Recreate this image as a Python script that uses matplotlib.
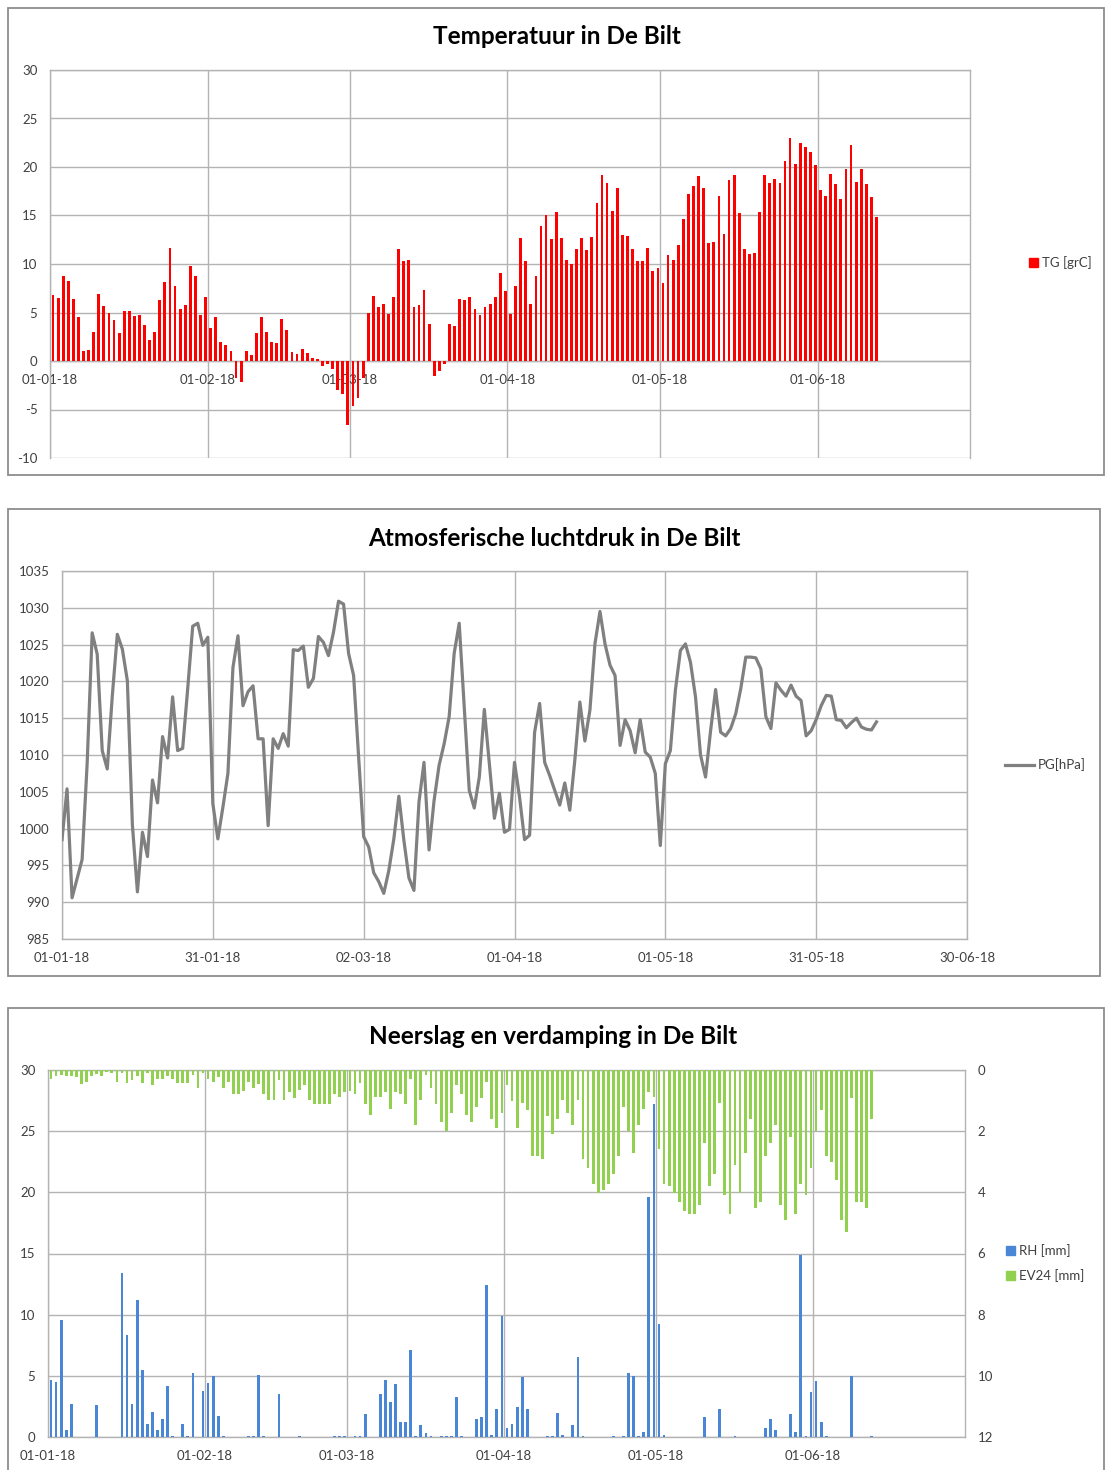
import numpy as np
import pandas as pd
import matplotlib
matplotlib.use('Agg')
import matplotlib.pyplot as plt
import matplotlib.dates as mdates
from matplotlib.patches import Rectangle, Patch
from matplotlib.lines import Line2D

plt.rcParams['font.family'] = ['Lato', 'DejaVu Sans']
plt.rcParams['axes.unicode_minus'] = False

START = '2018-01-01'

# Daily mean temperature TG [grC], 1 Jan - 12 Jun 2018
TG = [6.8, 6.5, 8.8, 8.2, 6.4, 4.5, 1.05, 1.1, 3.0, 6.9, 5.7, 5.0, 4.25, 2.9, 5.2, 5.2,
      4.6, 4.7, 3.7, 2.2, 3.0, 6.3, 8.1, 11.7, 7.7, 5.4, 5.8, 9.8, 8.8, 4.7, 6.6,
      3.4, 4.5, 2.0, 1.7, 1.0, -1.8, -2.2, 1.0, 0.6, 2.9, 4.5, 3.0, 2.0, 1.9, 4.3,
      3.2, 0.95, 0.7, 1.25, 0.8, 0.3, 0.25, -0.5, -0.35, -0.8, -3.0, -3.4, -6.6,
      -4.6, -3.8, -1.8, 5.0, 6.7, 5.6, 5.9, 4.8, 6.6, 11.5, 10.3, 10.4, 5.6, 5.8,
      7.35, 3.8, -1.5, -1.0, -0.3, 3.8, 3.6, 6.4, 6.25, 6.6, 5.4, 4.7, 5.6, 5.9,
      6.6, 9.1, 7.2,
      4.8, 7.7, 12.7, 10.3, 5.9, 8.8, 13.9, 15.1, 12.6, 15.4, 12.7, 10.4, 10.0,
      11.5, 12.7, 11.4, 12.8, 16.3, 19.2, 18.3, 15.5, 17.8, 13.0, 12.9, 11.5,
      10.3, 10.3, 11.7, 9.3, 9.6,
      8.0, 10.9, 10.45, 12.0, 14.6, 17.2, 18.0, 19.1, 17.8, 12.2, 12.3, 17.0,
      13.1, 18.7, 19.2, 15.3, 11.5, 11.0, 11.1, 15.4, 19.2, 18.3, 18.8, 18.3,
      20.6, 23.0, 20.3, 22.5, 22.1, 21.5, 20.2,
      17.6, 17.0, 19.3, 18.2, 16.7, 19.8, 22.3, 18.5, 19.8, 18.2, 16.9, 14.8]

# Daily mean air pressure PG [hPa]
PG = [998.5, 1005.4, 990.6, 993.2, 995.8, 1008.8, 1026.6, 1023.7, 1010.6, 1008.1,
      1018.0, 1026.4, 1024.4, 1020.1, 1000.5, 991.4, 999.5, 996.2, 1006.6, 1003.5,
      1012.5, 1009.6, 1017.9, 1010.6, 1010.9, 1019.0, 1027.5, 1027.9, 1024.9, 1026.0,
      1003.4, 998.6, 1002.9, 1007.5, 1021.9, 1026.2, 1016.7, 1018.6, 1019.4, 1012.2,
      1012.2, 1000.4, 1012.2, 1010.9, 1012.9, 1011.2, 1024.3, 1024.2, 1024.8, 1019.2,
      1020.4, 1026.1, 1025.3, 1023.5, 1026.7, 1030.9, 1030.5, 1023.8, 1020.8, 1009.7,
      998.9, 997.5, 994.0, 992.8, 991.2, 994.3, 998.6, 1004.4, 998.4, 993.3,
      991.6, 1003.6, 1009.0, 997.1, 1003.8, 1008.6, 1011.5, 1015.2, 1023.8, 1027.9,
      1016.5, 1005.2, 1002.8, 1007.0, 1016.2, 1008.8, 1001.4, 1004.8, 999.5, 999.9,
      1009.0, 1004.3, 998.5, 999.1, 1013.1, 1017.0, 1009.0, 1007.2, 1005.2, 1003.2,
      1006.2, 1002.5, 1009.3, 1017.2, 1011.9, 1016.1, 1025.1, 1029.5, 1025.1, 1022.2,
      1020.8, 1011.3, 1014.8, 1013.3, 1010.3, 1014.8, 1010.4, 1009.7, 1007.5, 997.7,
      1008.8, 1010.6, 1018.8, 1024.2, 1025.1, 1022.6, 1017.9, 1010.0, 1007.0, 1013.3,
      1018.9, 1013.1, 1012.6, 1013.6, 1015.6, 1019.0, 1023.3, 1023.3, 1023.2, 1021.7,
      1015.2, 1013.6, 1019.8, 1018.8, 1018.0, 1019.5, 1018.0, 1017.4, 1012.6, 1013.3,
      1014.8, 1016.7, 1018.1, 1018.0, 1014.8, 1014.7, 1013.7, 1014.4, 1015.0, 1013.8,
      1013.5, 1013.4, 1014.5]

# Daily precipitation RH [mm]
RH = [4.7, 4.5, 9.6, 0.55, 2.7, 0, 0, 0, 0, 2.6,
      0, 0, 0, 0, 13.4, 8.3, 2.7, 11.2, 5.5, 1.1,
      2.05, 0.55, 1.5, 4.2, 0.1, 0, 1.1, 0.05, 5.2, 0,
      3.8, 4.4, 5.0, 1.7, 0.05, 0, 0, 0, 0, 0.05,
      0.05, 5.1, 0.05, 0, 0, 3.5, 0, 0, 0, 0.05,
      0, 0, 0, 0, 0, 0, 0.05, 0.05, 0.05, 0,
      0.05, 0.05, 1.9, 0, 0, 3.55, 4.7, 2.9, 4.3, 1.2,
      1.2, 7.1, 0.05, 0.95, 0.35, 0.05, 0, 0.05, 0.05, 0.05,
      3.3, 0.05, 0, 0, 1.5, 1.6, 12.4, 0.15, 2.3, 9.9,
      0.7, 1.1, 2.45, 4.9, 2.3, 0, 0, 0, 0.05, 0.05,
      2.0, 0.15, 0, 0.95, 6.5, 0.05, 0, 0, 0, 0,
      0, 0.05, 0, 0.05, 5.2, 5.0, 0.05, 0.4, 19.6, 27.2,
      9.2, 0.15, 0, 0, 0, 0, 0, 0, 0, 1.6,
      0, 0, 2.3, 0, 0, 0.05, 0, 0, 0, 0,
      0, 0.75, 1.45, 0.55, 0, 0, 1.9, 0.4, 14.85, 0.05,
      3.7, 4.6, 1.2, 0.05, 0, 0, 0, 0, 5.0, 0,
      0, 0, 0.05]

# Daily evaporation EV24 [mm]
EV24 = [0.30, 0.19, 0.16, 0.19, 0.19, 0.22, 0.47, 0.38, 0.19, 0.13,
        0.19, 0.08, 0.11, 0.38, 0.11, 0.41, 0.33, 0.19, 0.41, 0.11,
        0.49, 0.30, 0.30, 0.19, 0.30, 0.41, 0.41, 0.41, 0.16, 0.60,
        0.11, 0.30, 0.38, 0.24, 0.58, 0.38, 0.80, 0.80, 0.69, 0.38,
        0.58, 0.46, 0.80, 0.99, 0.99, 0.33, 0.99, 0.71, 0.91, 0.66,
        0.49, 0.99, 1.10, 1.10, 1.10, 1.10, 0.77, 0.88, 0.71, 0.69,
        0.79, 0.41, 1.10, 1.48, 0.88, 0.88, 0.71, 1.29, 0.71, 0.77,
        1.10, 0.30, 1.79, 0.99, 0.16, 0.60, 1.10, 1.70, 1.98, 1.40,
        0.50, 0.80, 1.48, 1.69, 1.20, 0.90, 0.38, 1.61, 1.91, 1.40,
        0.49, 1.01, 1.91, 1.09, 1.31, 2.81, 2.81, 2.90, 1.50, 2.10,
        1.61, 0.98, 1.40, 1.80, 0.98, 2.90, 3.20, 3.72, 4.01, 3.93,
        3.72, 3.41, 2.81, 1.20, 1.99, 2.70, 1.80, 1.29, 0.71, 0.87,
        2.57, 3.72, 3.79, 4.01, 4.32, 4.61, 4.70, 4.70, 4.40, 2.40,
        3.79, 3.41, 1.09, 4.10, 4.70, 3.11, 4.01, 2.70, 1.61, 4.51,
        4.32, 2.81, 2.40, 1.80, 4.40, 4.92, 2.19, 4.70, 3.72, 4.10,
        3.20, 1.99, 1.31, 2.81, 3.01, 3.61, 4.92, 5.30, 0.90, 4.32,
        4.32, 4.51, 1.61]

TITLES = ['Temperatuur in De Bilt', 'Atmosferische luchtdruk in De Bilt',
          'Neerslag en verdamping in De Bilt']
LABELS = ['TG [grC]', 'PG[hPa]', 'RH [mm]', 'EV24 [mm]']

W, H = 1105, 1470
fig = plt.figure(figsize=(W / 100, H / 100), dpi=100)
fig.patch.set_facecolor('white')

GRID = '#b3b3b3'
TXT = '#404040'
FS = 9.5
TFS = 17.5
BW = 0.55


def px_axes(x0, y0, x1, y1):
    return fig.add_axes([x0 / W, 1 - y1 / H, (x1 - x0) / W, (y1 - y0) / H])


def frame(x0, y0, x1, y1):
    fig.patches.append(Rectangle((x0 / W, 1 - y1 / H), (x1 - x0) / W, (y1 - y0) / H,
                                 transform=fig.transFigure, fill=False,
                                 edgecolor='#8c8c8c', lw=1.3))


def style(ax):
    ax.set_axisbelow(True)
    ax.grid(True, color=GRID, lw=1.0)
    for s in ax.spines.values():
        s.set_color(GRID)
        s.set_linewidth(1.0)
    ax.tick_params(length=0, labelsize=FS, labelcolor=TXT)


dates = pd.date_range(START, periods=len(TG), freq='D')
dn = mdates.date2num(dates)
d0 = mdates.date2num(pd.Timestamp(START))
month_starts = mdates.date2num(pd.date_range(START, periods=6, freq='MS'))
fmt = mdates.DateFormatter('%d-%m-%y')

frame(8, 8, 1104, 475)
frame(8, 509, 1100, 976)
frame(8, 1008, 1104, 1472)

# ---------- Panel 1: temperature ----------
ax1 = px_axes(50, 70, 970, 458)
ax1.bar(dn + 0.6, TG, width=BW, color='#ff0000', zorder=3)
ax1.set_xlim(d0, d0 + 181)
ax1.set_ylim(-10, 30)
ax1.set_yticks(range(-10, 31, 5))
ax1.set_xticks(month_starts)
ax1.xaxis.set_major_formatter(fmt)
style(ax1)
ax1.spines['bottom'].set_position(('data', 0))
ax1.tick_params(axis='x', pad=9)
ax1.tick_params(axis='y', pad=9)
fig.text(557 / W, 1 - 37 / H, TITLES[0], ha='center', va='center',
         fontsize=TFS, fontweight='bold', color='black')
ax1.legend([Patch(color='#ff0000')], [LABELS[0]], loc='center left',
           bbox_to_anchor=(1017 / W, 1 - 263 / H), bbox_transform=fig.transFigure,
           frameon=False, fontsize=FS, handlelength=0.7, handleheight=0.7,
           handletextpad=0.3, labelcolor=TXT)

# ---------- Panel 2: pressure ----------
ax2 = px_axes(62, 571, 967, 939)
ax2.plot(dn, PG, color='#808080', lw=2.3, zorder=3)
ax2.set_xlim(d0, d0 + 180)
ax2.set_ylim(985, 1035)
ax2.set_yticks(range(985, 1036, 5))
ax2.set_xticks(d0 + np.arange(0, 181, 30))
ax2.xaxis.set_major_formatter(fmt)
style(ax2)
ax2.tick_params(axis='x', pad=9)
ax2.tick_params(axis='y', pad=9)
fig.text(554 / W, 1 - 538 / H, TITLES[1], ha='center', va='center',
         fontsize=TFS, fontweight='bold', color='black')
ax2.legend([Line2D([], [], color='#808080', lw=2.3)], [LABELS[1]], loc='center left',
           bbox_to_anchor=(993 / W, 1 - 765 / H), bbox_transform=fig.transFigure,
           frameon=False, fontsize=FS, handlelength=2.2, handletextpad=0.3,
           labelcolor=TXT)

# ---------- Panel 3: precipitation & evaporation ----------
ax3 = px_axes(48, 1070, 965, 1437)
ax3.bar(dn + 0.6, RH, width=BW, color='#4a86d6', zorder=3)
ax3.set_xlim(d0, d0 + 181)
ax3.set_ylim(0, 30)
ax3.set_yticks(range(0, 31, 5))
ax3.set_xticks(month_starts)
ax3.xaxis.set_major_formatter(fmt)
style(ax3)
ax3.tick_params(axis='x', pad=9)
ax3.tick_params(axis='y', pad=9)
ax3b = ax3.twinx()
ax3b.bar(dn + 0.6, EV24, width=BW, color='#92d050', zorder=3)
ax3b.set_ylim(12, 0)
ax3b.set_yticks(range(0, 13, 2))
for s in ax3b.spines.values():
    s.set_visible(False)
ax3b.tick_params(length=0, labelsize=FS, labelcolor=TXT, pad=9)
fig.text(553 / W, 1 - 1037 / H, TITLES[2], ha='center', va='center',
         fontsize=TFS, fontweight='bold', color='black')
ax3b.legend([Patch(color='#4a86d6'), Patch(color='#92d050')], LABELS[2:],
            loc='center left', bbox_to_anchor=(994 / W, 1 - 1263 / H),
            bbox_transform=fig.transFigure, frameon=False, fontsize=FS,
            handlelength=0.7, handleheight=0.7, handletextpad=0.3,
            labelspacing=0.9, labelcolor=TXT)

fig.savefig('out.png', dpi=100, facecolor='white')
